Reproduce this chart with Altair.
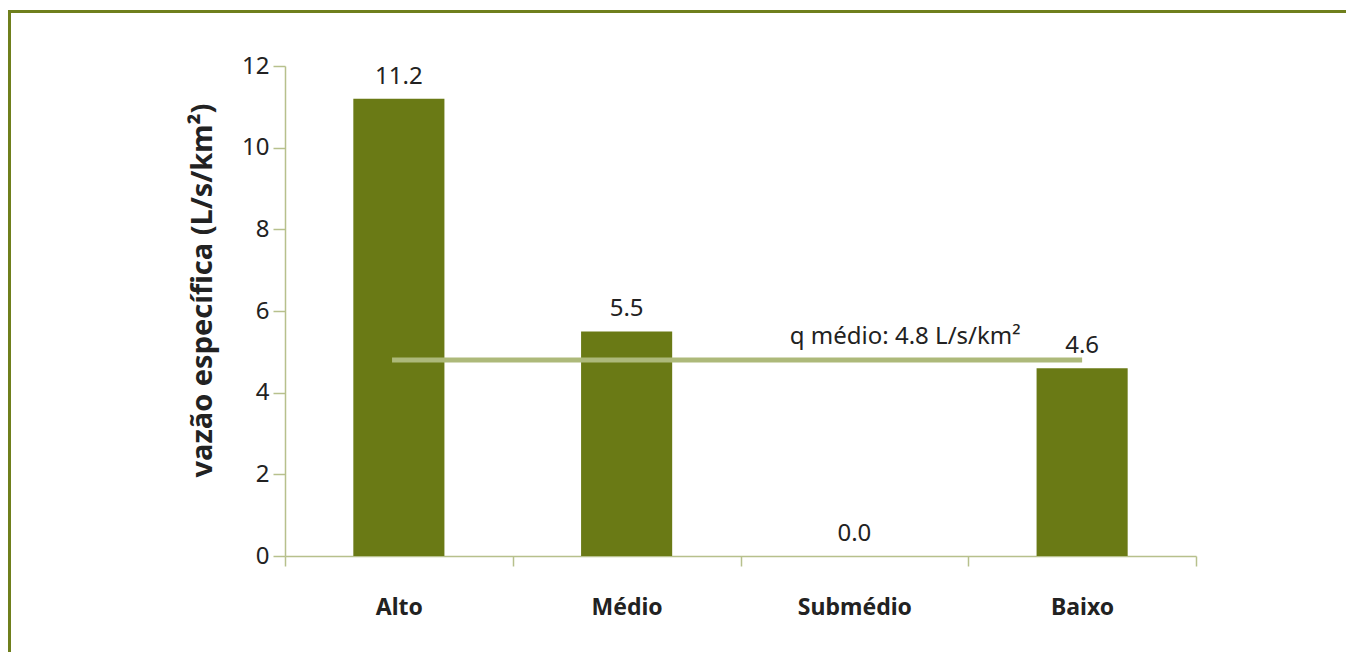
import altair as alt
import pandas as pd

categories = ["Alto", "Médio", "Submédio", "Baixo"]
values = [11.2, 5.5, 0.0, 4.6]
mean_value = 4.8
mean_label = "q médio: 4.8 L/s/km²"
y_ticks = [0, 2, 4, 6, 8, 10, 12]

df = pd.DataFrame({"cat": categories, "val": values, "lab": [f"{v:.1f}" for v in values]})
mean_df = pd.DataFrame({"start": [categories[0]], "end": [categories[-1]], "q": [mean_value], "lab": [mean_label]})

FONT = "Noto Sans"
BAR = "#6a7a15"
AXIS = "#b7c08c"
TXT = "#222222"
FS = 24

xscale = alt.Scale(domain=categories, paddingInner=0, paddingOuter=0)
xenc = alt.X("cat:N", scale=xscale, title=None,
             axis=alt.Axis(labelAngle=0, labelFontWeight="bold", labelFontSize=23, labelFont=FONT,
                           labelColor=TXT, labelPadding=30, tickBand="extent", tickSize=10,
                           tickColor=AXIS, domainColor=AXIS, domainWidth=1.5, tickWidth=1.5))
yscale = alt.Scale(domain=[0, 12], nice=False)

bars = alt.Chart(df).mark_bar(color=BAR, width=alt.RelativeBandSize(0.4)).encode(
    x=xenc,
    y=alt.Y("val:Q", scale=yscale, title="vazão específica (L/s/km²)",
            axis=alt.Axis(values=y_ticks, grid=False, tickSize=12, labelFontSize=FS, labelFont=FONT,
                          labelColor=TXT, labelPadding=4, tickColor=AXIS, domainColor=AXIS,
                          domainWidth=1.5, tickWidth=1.5, titleFontSize=29, titleFont=FONT,
                          titleFontWeight="bold", titleColor=TXT, titlePadding=24, titleY=224)),
)

labels = alt.Chart(df).mark_text(baseline="bottom", dy=-10, fontSize=FS, font=FONT, color=TXT).encode(
    x=alt.X("cat:N", scale=xscale),
    y=alt.Y("val:Q", scale=yscale),
    text="lab:N",
)

mean_rule = alt.Chart(mean_df).mark_rule(color="#adb97a", strokeWidth=5).encode(
    x=alt.X("start:N", scale=xscale, bandPosition=0.47),
    x2="end:N",
    y=alt.Y("q:Q", scale=yscale),
)

mean_text = alt.Chart(mean_df).mark_text(baseline="bottom", dy=-11, dx=-63, fontSize=FS, font=FONT, color=TXT).encode(
    x=alt.X("end:N", scale=xscale, bandPosition=0),
    y=alt.Y("q:Q", scale=yscale),
    text="lab:N",
)

frame = alt.Chart(mean_df).mark_rect(fill=None, stroke="#6f7f1c", strokeWidth=3).encode(
    x=alt.value(-275.5), x2=alt.value(1300), y=alt.value(-54.5), y2=alt.value(700),
)

chart = alt.layer(frame, bars, labels, mean_rule, mean_text).properties(
    width=911, height=490,
    autosize=alt.AutoSizeParams(type="none"),
    padding={"left": 277, "top": 58, "right": 150, "bottom": 96},
).configure_view(stroke=None)

chart.save("out.html", embed_options={"renderer": "svg", "actions": False})
